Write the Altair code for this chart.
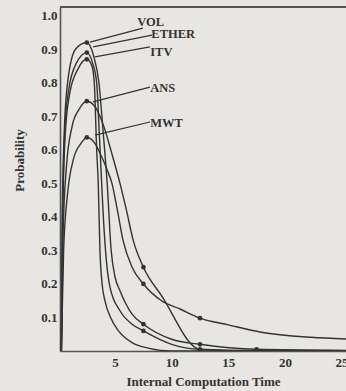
import altair as alt
import pandas as pd

# Probability of each method finishing at a given internal computation time.
series_names = ["VOL", "ETHER", "ITV", "ANS", "MWT"]

vol_x = [0.25, 0.33, 0.5, 0.8, 1.5, 2.5, 3.1, 3.57, 3.95, 4.3, 4.65, 5.0, 5.43, 6.5, 7.5,
         10.0, 12.5, 17.5, 25.4]
vol_y = [0.0, 0.4, 0.65, 0.8, 0.9, 0.92, 0.88, 0.8, 0.65, 0.5, 0.3, 0.22, 0.18, 0.11, 0.08,
         0.035, 0.02, 0.005, 0.002]
vol_dot = [2.5, 7.5, 12.5, 17.5]

ether_x = [0.25, 0.35, 0.55, 0.9, 1.6, 2.5, 3.0, 3.37, 3.6, 3.81, 3.96, 4.2, 4.55, 5.43, 6.5,
           7.5, 10.0, 12.5, 17.5, 25.4]
ether_y = [0.0, 0.4, 0.65, 0.78, 0.86, 0.89, 0.86, 0.8, 0.65, 0.5, 0.4, 0.28, 0.19, 0.12, 0.08,
           0.06, 0.02, 0.005, 0.001, 0.0]
ether_dot = [2.5, 7.5]

itv_x = [0.25, 0.37, 0.6, 1.0, 1.7, 2.5, 2.95, 3.16, 3.37, 3.51, 3.66, 3.85, 4.1, 4.6, 5.3,
         6.5, 8.0, 10.0, 25.4]
itv_y = [0.0, 0.4, 0.65, 0.77, 0.84, 0.87, 0.85, 0.8, 0.6, 0.5, 0.3, 0.2, 0.15, 0.1, 0.06,
         0.025, 0.008, 0.0, 0.0]
itv_dot = [2.5]

ans_x = [0.25, 0.4, 0.7, 1.2, 1.8, 2.5, 3.2, 4.0, 4.7, 5.43, 6.0, 6.6, 7.5, 9.1, 12.5, 17.5, 25.4]
ans_y = [0.0, 0.35, 0.55, 0.67, 0.72, 0.745, 0.73, 0.67, 0.59, 0.5, 0.42, 0.33, 0.25, 0.165,
         0.005, 0.0, 0.0]
ans_dot = [2.5, 7.5, 12.5]

mwt_x = [0.25, 0.45, 0.8, 1.3, 2.0, 2.5, 3.2, 3.8, 4.3, 4.72, 5.2, 5.7, 6.5, 7.5, 9.1, 10.7,
         12.5, 15.0, 17.9, 22.3, 25.4]
mwt_y = [0.0, 0.3, 0.47, 0.57, 0.62, 0.637, 0.62, 0.58, 0.54, 0.5, 0.42, 0.33, 0.25, 0.2, 0.15,
         0.126, 0.098, 0.078, 0.056, 0.041, 0.036]
mwt_dot = [2.5, 7.5, 12.5]

y_ticks = [0.1, 0.2, 0.3, 0.4, 0.5, 0.6, 0.7, 0.8, 0.9, 1.0]
x_ticks = [5, 10, 15, 20, 25]

# Leader lines from each peak to its name.
label_x0 = [2.78, 3.05, 3.22, 3.05, 3.22]
label_y0 = [0.921, 0.907, 0.877, 0.743, 0.644]
label_x1 = [7.46, 8.26, 8.08, 8.08, 8.08]
label_y1 = [0.963, 0.942, 0.907, 0.787, 0.683]
text_x = [6.95, 8.2, 8.1, 8.1, 8.1]
text_y = [0.98, 0.946, 0.893, 0.785, 0.68]

curves = {
    "VOL": (vol_x, vol_y, vol_dot),
    "ETHER": (ether_x, ether_y, ether_dot),
    "ITV": (itv_x, itv_y, itv_dot),
    "ANS": (ans_x, ans_y, ans_dot),
    "MWT": (mwt_x, mwt_y, mwt_dot),
}

rows = []
for name, (xs, ys, dots) in curves.items():
    for x, y in zip(xs, ys):
        rows.append({"series": name, "t": x, "p": y, "dot": x in dots})
df = pd.DataFrame(rows)

labels = pd.DataFrame({
    "series": series_names,
    "x0": label_x0, "y0": label_y0, "x1": label_x1, "y1": label_y1,
    "tx": text_x, "ty": text_y,
})

INK = "#333333"
FONT = "Liberation Serif"

xs = alt.Scale(domain=[0.13, 25.4], nice=False, zero=False)
ys = alt.Scale(domain=[0, 1.026], nice=False)

x_axis = alt.Axis(values=x_ticks, title="Internal Computation Time", labelPadding=5,
                  titlePadding=6)
y_axis = alt.Axis(values=y_ticks, format=".1f", title="Probability", labelPadding=3,
                  titleX=-34, titleY=153)

base = alt.Chart(df)

lines = base.mark_line(interpolate="monotone", color=INK, strokeWidth=1.4, clip=True).encode(
    x=alt.X("t:Q", scale=xs, axis=x_axis),
    y=alt.Y("p:Q", scale=ys, axis=y_axis),
    detail="series:N",
)

points = base.transform_filter(alt.datum.dot).mark_circle(
    color=INK, opacity=1, size=22, clip=True).encode(
    x=alt.X("t:Q", scale=xs, axis=x_axis),
    y=alt.Y("p:Q", scale=ys, axis=y_axis),
)

lab = alt.Chart(labels)
leaders = lab.mark_rule(color=INK, strokeWidth=1.2).encode(
    x=alt.X("x0:Q", scale=xs, axis=x_axis), y=alt.Y("y0:Q", scale=ys, axis=y_axis),
    x2="x1:Q", y2="y1:Q",
)
names = lab.mark_text(align="left", baseline="middle", font=FONT, fontSize=12.5,
                      fontWeight="bold", color=INK).encode(
    x=alt.X("tx:Q", scale=xs, axis=x_axis), y=alt.Y("ty:Q", scale=ys, axis=y_axis),
    text="series:N",
)

top_rule = alt.Chart(labels).mark_rule(color="#555555", strokeWidth=1.4).encode(
    x=alt.value(0), x2=alt.value(286), y=alt.value(0),
)

chart = alt.layer(lines, points, leaders, names, top_rule).properties(
    width=286, height=344,
    autosize=alt.AutoSizeParams(type="none"),
    padding={"left": 60, "top": 7, "right": 0, "bottom": 40},
    background="#e8e6e2",
).configure_view(stroke=None).configure_axis(
    grid=False, ticks=False, domainColor="#555555", domainWidth=1.6,
    labelFont=FONT, labelFontSize=13, labelFontWeight="bold", labelColor=INK,
    labelOverlap=False, labelBound=False, labelFlush=False,
    titleFont=FONT, titleFontSize=13, titleFontWeight="bold", titleColor=INK,
)

chart.save("out.html", embed_options={"renderer": "svg", "actions": False})
